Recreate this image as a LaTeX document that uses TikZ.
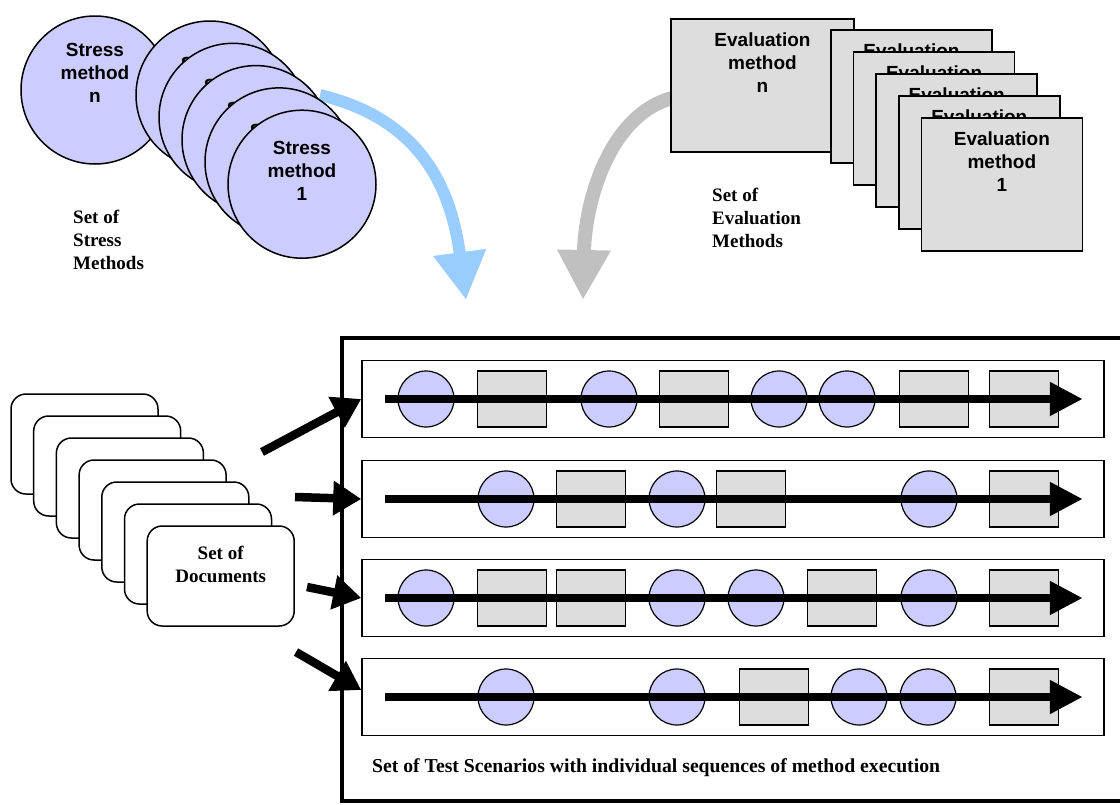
\documentclass[tikz,border=0pt]{standalone}
\usepackage{fontspec}
\setmainfont{Liberation Serif}
\setsansfont{Liberation Sans}
\usetikzlibrary{positioning,calc,arrows.meta}

\definecolor{stressfill}{HTML}{CCCCFF}
\definecolor{evalfill}{HTML}{DDDDDD}
\definecolor{stressflow}{HTML}{99CCFF}
\definecolor{evalflow}{HTML}{C0C0C0}

\tikzset{
  shapetext/.style={font=\sffamily\bfseries\fontsize{19}{23}\selectfont, align=center},
  labeltext/.style={font=\bfseries\fontsize{19}{23}\selectfont, align=left, inner sep=0pt},
  stressc/.style={circle, draw, line width=1.5pt, fill=stressfill, minimum size=148pt, inner sep=0pt},
  evalbox/.style={rectangle, draw, line width=1.5pt, fill=evalfill, minimum width=161pt, minimum height=133pt, inner sep=0pt},
  docbox/.style={rectangle, rounded corners=15pt, draw, line width=1.5pt, fill=white, minimum width=147pt, minimum height=100pt},
  rowbox/.style={rectangle, draw, line width=1.5pt, minimum width=742pt, minimum height=77pt},
  citem/.style={circle, draw, line width=1.2pt, fill=stressfill, minimum size=56pt, inner sep=0pt},
  sitem/.style={rectangle, draw, line width=1.2pt, fill=evalfill, minimum width=69pt, minimum height=56pt, inner sep=0pt},
  seqarrow/.style={line width=8pt, -{Triangle[length=33pt,width=32pt]}},
  feedarrow/.style={line width=8.5pt, -{Triangle[length=28pt,width=33pt]}},
}

\begin{document}
\begin{tikzpicture}[x=1pt, y=-1pt]
  \useasboundingbox (0,0) rectangle (1120,804);

  % Curved flows towards the scenarios
  \coordinate (bs) at (320,95);
  \coordinate (bt) at (466,300);
  \coordinate (gs) at (672,98);
  \coordinate (gt) at (583,300);
  \draw[stressflow, line width=12pt, -{Triangle[length=48pt,width=50pt]}]
    (bs) .. controls (415,118) and (450,180) .. (bt);
  \draw[evalflow, line width=14pt, -{Triangle[length=50pt,width=50pt]}]
    (gs) .. controls (610,115) and (585,200) .. (gt);

  % Stress methods
  \node[stressc] (sn) at (95,90) {};
  \node[shapetext] (stn) at ([yshift=17pt]sn.center) {Stress\\method\\n};
  \foreach \k [count=\i from 0] in {5,4,3,2} {
    \node[stressc] (s\k) at (210+23*\i, 95+22.3*\i) {};
    \node[shapetext] (st\k) at ([yshift=8pt]s\k.center) {Stress\\method\\\k};
  }
  \node[stressc] (s1) at (302,184.2) {};
  \node[shapetext] (st1) at ([yshift=13pt]s1.center) {Stress\\method\\1};
  \node[labeltext, anchor=west] (slab) at (73,240) {Set of\\Stress\\Methods};

  % Evaluation methods
  \node[evalbox, minimum width=183pt] (en) at (762.5,85.5) {};
  \node[shapetext] (etn) at ([yshift=23pt]en.center) {Evaluation\\method\\n};
  \foreach \k [count=\i from 0] in {5,4,3,2,1} {
    \node[evalbox] (e\k) at (911.5+22.6*\i, 96.5+22*\i) {};
    \node[shapetext] (et\k) at ([yshift=23pt]e\k.center) {Evaluation\\method\\\k};
  }
  \node[labeltext, anchor=west] (elab) at (712,218) {Set of\\Evaluation\\Methods};

  % Documents
  \foreach \i in {0,...,6}
    \node[docbox] (d\i) at (84.5+22.7*\i, 444+22*\i) {};
  \node[labeltext, align=center] (dlab) at ([yshift=12pt]d6.center) {Set of\\Documents};

  % Scenario frame
  \draw[line width=4.5pt] (1130,338) -- (342,338) -- (342,801) -- (1130,801);

  % Scenario rows
  \foreach \r/\y in {1/399, 2/499, 3/598, 4/697}
    \node[rowbox] (r\r) at (733,\y) {};

  \foreach \t/\x [count=\i] in {citem/426, sitem/512, citem/609, sitem/694, citem/779, citem/847, sitem/934, sitem/1024}
    \node[\t] (ra\i) at (\x,399) {};
  \foreach \t/\x [count=\i] in {citem/506, sitem/591, citem/677, sitem/751, citem/929, sitem/1024}
    \node[\t] (rb\i) at (\x,499) {};
  \foreach \t/\x [count=\i] in {citem/426, sitem/512, sitem/591, citem/677, citem/756, sitem/842, citem/929, sitem/1024}
    \node[\t] (rc\i) at (\x,598) {};
  \foreach \t/\x [count=\i] in {citem/506, citem/677, sitem/774, citem/859, citem/928, sitem/1024}
    \node[\t] (rd\i) at (\x,697) {};

  % Execution sequences
  \foreach \r in {1,...,4}
    \draw[seqarrow] ([xshift=24pt]r\r.west) -- ([xshift=-22pt]r\r.east);

  % Documents feeding the scenarios
  \coordinate (f1) at (262,452);
  \coordinate (f2) at (295,497);
  \coordinate (f3) at (307,587);
  \coordinate (f4) at (296,652);
  \draw[feedarrow] (f1) -- (r1.west);
  \draw[feedarrow] (f2) -- (r2.west);
  \draw[feedarrow] (f3) -- (r3.west);
  \draw[feedarrow] (f4) -- ([yshift=7pt]r4.west);

  \node[labeltext, anchor=west, font=\bfseries\fontsize{19.7}{23}\selectfont] (cap) at (372,768) {Set of Test Scenarios with individual sequences of method execution};
\end{tikzpicture}
\end{document}
